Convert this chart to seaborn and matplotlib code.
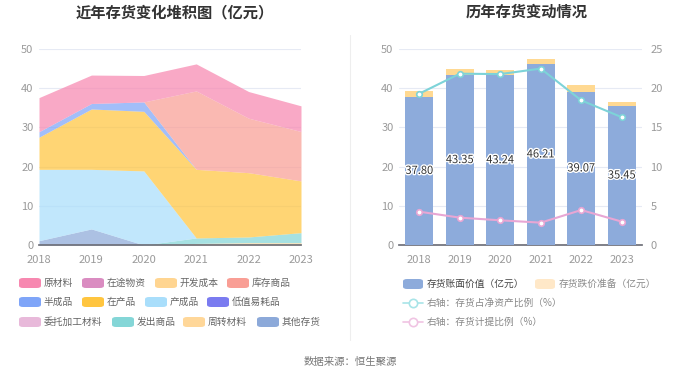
import numpy as np
import pandas as pd
import matplotlib
matplotlib.use("Agg")
import matplotlib.pyplot as plt
import seaborn as sns
from matplotlib.patches import FancyBboxPatch
from matplotlib.lines import Line2D
import matplotlib.patheffects as pe

sns.set_theme(style="white")
plt.rcParams['font.family'] = ['Noto Sans CJK SC', 'DejaVu Sans']
plt.rcParams['axes.unicode_minus'] = False

years = ["2018", "2019", "2020", "2021", "2022", "2023"]

# stacked area data (亿元)
原材料 = [8.7, 7.25, 6.74, 6.9, 6.8, 6.55]
在途物资 = [0, 0, 0, 0, 0, 0]
开发成本 = [0, 0, 0, 0, 0, 0]
库存商品 = [0, 0, 0, 20.0, 13.9, 12.6]
半成品 = [1.4, 1.4, 2.4, 0, 0, 0]
在产品 = [8.2, 15.4, 15.2, 17.5, 16.4, 13.2]
产成品 = [18.2, 15.2, 18.9, 0, 0, 0]
低值易耗品 = [0, 0, 0, 0, 0, 0]
委托加工材料 = [0, 0, 0, 0, 0, 0]
发出商品 = [0, 0, 0, 1.4, 1.45, 2.55]
周转材料 = [0, 0, 0, 0.4, 0.6, 0.6]
其他存货 = [1.1, 4.1, 0, 0, 0, 0]

area_names = ["原材料", "在途物资", "开发成本", "库存商品", "半成品", "在产品",
              "产成品", "低值易耗品", "委托加工材料", "发出商品", "周转材料", "其他存货"]
area_values = [原材料, 在途物资, 开发成本, 库存商品, 半成品, 在产品,
               产成品, 低值易耗品, 委托加工材料, 发出商品, 周转材料, 其他存货]
area_colors = ["#F788B0", "#DA8CC1", "#FFD591", "#F99E95", "#7FA5F8", "#FFC53F",
               "#A9DEFB", "#7A7BF0", "#E8B9DA", "#84D6D7", "#FFD799", "#8CA9D9"]

# right chart data
账面价值 = [37.80, 43.35, 43.24, 46.21, 39.07, 35.45]
跌价准备 = [1.6, 1.55, 1.35, 1.2, 1.75, 1.05]
净资产比例 = [19.3, 21.85, 21.8, 22.5, 18.45, 16.3]
计提比例 = [4.25, 3.49, 3.15, 2.85, 4.46, 2.98]

W, H = 700, 378
fig = plt.figure(figsize=(7, 3.78), dpi=100)

def fx(x): return x / W
def fy(y): return 1 - y / H

grid_c = "#E6EAF4"
tick_c = "#9A9A9A"
axis_c = "#6E7079"

# ---------- Left chart ----------
ax1 = fig.add_axes([fx(39), fy(245), fx(301) - fx(39), fy(49) - fy(245)])
x = np.arange(len(years))
order = list(range(len(area_names)))[::-1]  # bottom = last
ax1.stackplot(x, *[area_values[i] for i in order],
              colors=[area_colors[i] for i in order], alpha=0.72, linewidth=0)
ax1.set_xlim(0, len(years) - 1)
ax1.set_ylim(0, 50)
ax1.set_yticks([0, 10, 20, 30, 40, 50])
ax1.set_xticks(x)
ax1.set_xticklabels(years)
for yv in [10, 20, 30, 40, 50]:
    ax1.axhline(yv, color=grid_c, lw=0.8, zorder=0)
for s in ["top", "right", "left"]:
    ax1.spines[s].set_visible(False)
ax1.spines["bottom"].set_color(axis_c)
ax1.tick_params(axis="both", colors=tick_c, labelsize=8, length=0, pad=4)
ax1.tick_params(axis="x", length=3, color=axis_c)

# ---------- Right chart ----------
ax2 = fig.add_axes([fx(399), fy(245), fx(642) - fx(399), fy(49) - fy(245)])
df = pd.DataFrame({"year": years, "账面": 账面价值,
                   "合计": np.array(账面价值) + np.array(跌价准备)})
sns.barplot(data=df, x="year", y="合计", color="#FFD992", saturation=1,
            width=0.7, ax=ax2, zorder=2)
sns.barplot(data=df, x="year", y="账面", color="#8DABDB", saturation=1,
            width=0.7, ax=ax2, zorder=3)
for p in ax2.patches:
    p.set_edgecolor("none")
ax2.set_ylim(0, 50)
ax2.set_xlim(-0.5, 5.5)
ax2.set_yticks([0, 10, 20, 30, 40, 50])
ax2.set_xlabel("")
ax2.set_ylabel("")
for yv in [10, 20, 30, 40, 50]:
    ax2.axhline(yv, color=grid_c, lw=0.8, zorder=0)
for s in ["top", "right", "left"]:
    ax2.spines[s].set_visible(False)
ax2.spines["bottom"].set_color(axis_c)
ax2.tick_params(axis="both", colors=tick_c, labelsize=8, length=0, pad=4)
ax2.tick_params(axis="x", length=3, color=axis_c)
for i, v in enumerate(账面价值):
    ax2.text(i, v / 2, f"{v:.2f}", ha="center", va="center", fontsize=8,
             color="#333333", zorder=6,
             path_effects=[pe.withStroke(linewidth=2, foreground="white")])

ax3 = ax2.twinx()
ldf = pd.DataFrame({"pos": np.arange(len(years)), "a": 净资产比例, "b": 计提比例})
sns.lineplot(data=ldf, x="pos", y="a", ax=ax3, color="#7DD3D8", lw=1.5,
             marker="o", markersize=4, markerfacecolor="white",
             markeredgecolor="#7DD3D8", markeredgewidth=1.2, zorder=5)
sns.lineplot(data=ldf, x="pos", y="b", ax=ax3, color="#E8A6D4", lw=1.5,
             marker="o", markersize=4, markerfacecolor="white",
             markeredgecolor="#E8A6D4", markeredgewidth=1.2, zorder=5)
ax3.set_ylim(0, 25)
ax3.set_xlim(-0.5, 5.5)
ax3.set_yticks([0, 5, 10, 15, 20, 25])
ax3.set_xlabel("")
ax3.set_ylabel("")
for s in ["top", "right", "left", "bottom"]:
    ax3.spines[s].set_visible(False)
ax3.tick_params(axis="y", colors=tick_c, labelsize=8, length=0, pad=6)
ax3.grid(False)

# ---------- Titles ----------
fig.text(fx(175), fy(12), "近年存货变化堆积图（亿元）", ha="center", va="center",
         fontsize=11, fontweight="bold", color="#333333")
fig.text(fx(527), fy(12), "历年存货变动情况", ha="center", va="center",
         fontsize=11, fontweight="bold", color="#333333")

# divider
fig.add_artist(Line2D([fx(350), fx(350)], [fy(35), fy(340)], color="#EEEEEE", lw=0.8))

# ---------- Left legend ----------
rows_y = [283, 302, 322]
leg_x = [[19, 82, 155, 227], [19, 82, 145, 207], [19, 112, 183, 257]]
k = 0
for r in range(3):
    for c in range(4):
        px = leg_x[r][c]
        py = rows_y[r]
        patch = FancyBboxPatch((fx(px), fy(py + 5)), fx(22), 10 / H,
                               boxstyle="round,pad=0,rounding_size=0.006",
                               transform=fig.transFigure, facecolor=area_colors[k],
                               edgecolor="none")
        fig.add_artist(patch)
        fig.text(fx(px + 25), fy(py), area_names[k], ha="left", va="center",
                 fontsize=7, color="#666666")
        k += 1

# ---------- Right legend ----------
fig.add_artist(FancyBboxPatch((fx(403), fy(289)), fx(20), 10 / H,
                              boxstyle="round,pad=0,rounding_size=0.006",
                              transform=fig.transFigure, facecolor="#8DABDB", edgecolor="none"))
fig.text(fx(427), fy(284), "存货账面价值（亿元）", ha="left", va="center", fontsize=7, color="#444444")
fig.add_artist(FancyBboxPatch((fx(535), fy(289)), fx(20), 10 / H,
                              boxstyle="round,pad=0,rounding_size=0.006",
                              transform=fig.transFigure, facecolor="#FFE8C8", edgecolor="none"))
fig.text(fx(559), fy(284), "存货跌价准备（亿元）", ha="left", va="center", fontsize=7, color="#888888")
for yy, col, lab in [(303, "#A8E4E8", "右轴：存货占净资产比例（%）"),
                     (322, "#F0C4E3", "右轴：存货计提比例（%）")]:
    fig.add_artist(Line2D([fx(403), fx(423)], [fy(yy), fy(yy)], color=col, lw=1.2))
    fig.add_artist(Line2D([fx(413)], [fy(yy)], color=col, marker="o", markersize=6,
                          markerfacecolor="white", markeredgewidth=1.2, lw=0))
    fig.text(fx(427), fy(yy), lab, ha="left", va="center", fontsize=7, color="#888888")

fig.text(fx(350), fy(362), "数据来源：恒生聚源", ha="center", va="center",
         fontsize=7.5, color="#777777")

fig.savefig("out.png", dpi=100, facecolor="white")
